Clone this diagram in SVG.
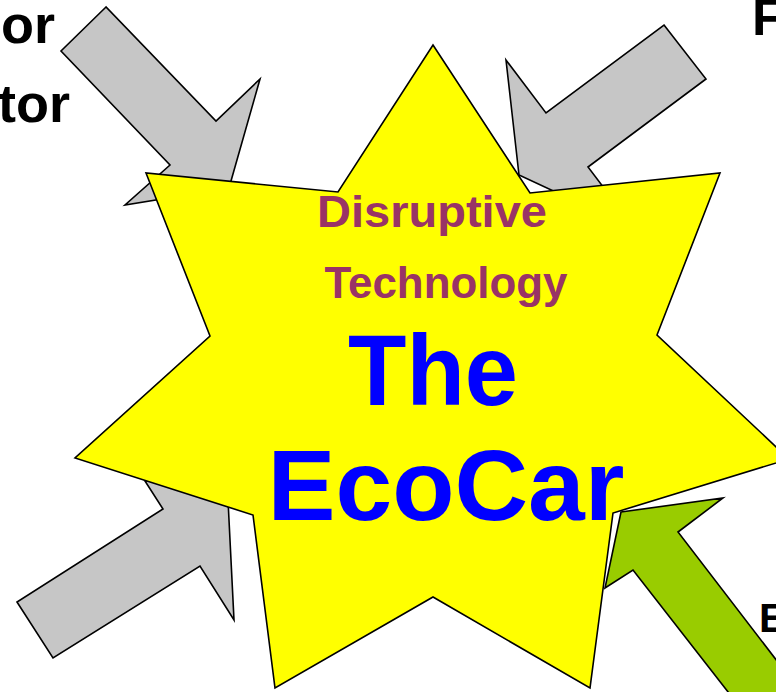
<svg xmlns="http://www.w3.org/2000/svg" width="776" height="692" viewBox="0 0 776 692">
<style>
.arrow{stroke:#000;stroke-width:1.6;stroke-linejoin:miter}
.gray{fill:#C6C6C6}
.green{fill:#99CC00}
.star{fill:#FFFF00;stroke:#000;stroke-width:1.6}
.lbl{font-family:"Liberation Sans",Arial,sans-serif;font-weight:bold;fill:#000}
.sub{font-family:"Liberation Sans",Arial,sans-serif;font-weight:bold;fill:#993366;font-size:45px;text-anchor:middle}
.main{font-family:"Liberation Sans",Arial,sans-serif;font-weight:bold;fill:#0000FF;font-size:100px;text-anchor:middle}
</style>
<rect width="776" height="692" fill="#FFFFFF"/>
<g id="labels">
<text class="lbl" x="55" y="43" font-size="54" text-anchor="end">or</text>
<text class="lbl" x="70" y="122" font-size="54" text-anchor="end">tor</text>
<text class="lbl" x="752" y="35" font-size="52">F</text>
<text class="lbl" x="759" y="632" font-size="41">E</text>
</g>
<g id="connectors">
<g id="arrow-top-left"><polygon class="arrow gray" points="106,7 61,51 170,165 125,205 229,188 260,79 216,121"/></g>
<g id="arrow-top-right"><polygon class="arrow gray" points="664,25 706,79 588,167 635,229 519,175 506,60 546,113"/></g>
<g id="arrow-bottom-left"><polygon class="arrow gray" points="17,602 53,658 200,566 234,620 227,480 145,481 163,509"/></g>
</g>
<g id="star">
<polygon class="star" points="433,45 530,193 720,173 657,335 789,459 613,513 590,688 433,597 275,688 253,515 75,458 210,336 146,173 338,192"/>
<text class="sub" x="432" y="227" textLength="230" lengthAdjust="spacingAndGlyphs">Disruptive</text>
<text class="sub" x="446" y="298" textLength="243" lengthAdjust="spacingAndGlyphs">Technology</text>
<text class="main" x="433" y="405" textLength="170" lengthAdjust="spacingAndGlyphs">The</text>
<text class="main" x="446" y="520" textLength="357" lengthAdjust="spacingAndGlyphs">EcoCar</text>
</g>
<g id="connectors-front">
<g id="arrow-bottom-right"><polygon class="arrow green" points="621,512 723,498 678,532 830,730 785,765 633,570 605,588"/></g>
</g>
</svg>
